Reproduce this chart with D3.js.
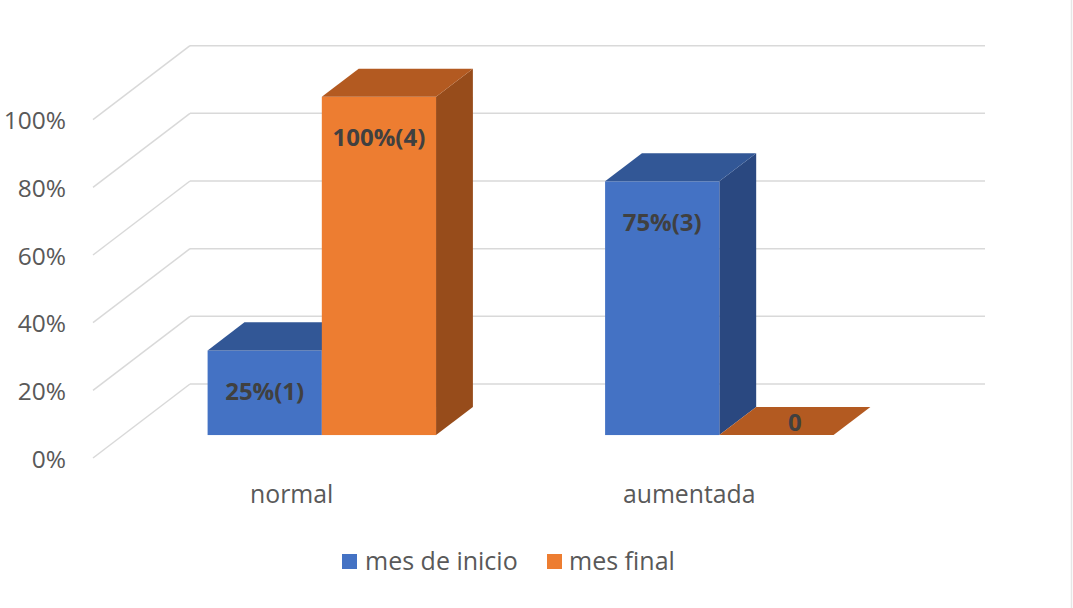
<!DOCTYPE html>
<html>
<head>
<meta charset="utf-8">
<script src="https://cdn.jsdelivr.net/npm/d3@7"></script>
<style>
  html, body { margin: 0; padding: 0; background: #ffffff; }
  svg { display: block; }
  text { font-family: "Open Sans", "Segoe UI", sans-serif; }
</style>
</head>
<body>
<svg id="chart" width="1073" height="608"></svg>
<script>
// ---- data ----
const categories = ["normal", "aumentada"];
const seriesNames = ["mes de inicio", "mes final"];
const valuesInicio = [0.25, 0.75];
const valuesFinal = [1.00, 0];
const labelsInicio = ["25%(1)", "75%(3)"];
const labelsFinal = ["100%(4)", "0"];
const tickValues = [0, 0.2, 0.4, 0.6, 0.8, 1.0];
const tickLabels = ["0%", "20%", "40%", "60%", "80%", "100%"];

// ---- styles ----
const colors = {
  "mes de inicio": { front: "#4472C4", top: "#325796", side: "#2A4880" },
  "mes final":     { front: "#ED7D31", top: "#B35A21", side: "#974C1B" }
};

const svg = d3.select("#chart");

// outer light border on the right
svg.append("line").attr("x1", 1071.5).attr("x2", 1071.5).attr("y1", 0).attr("y2", 608)
  .attr("stroke", "#E6E6E6").attr("stroke-width", 1.5);

// ---- 3D geometry (oblique projection) ----
const backLeft = 190, backRight = 985;
const depthDX = -97, depthDY = 74;            // back wall -> front edge
const barFrontFrac = 0.69, barBackFrac = 0.31; // bar faces as fraction of depth from back

const yBack = d3.scaleLinear().domain([0, 1]).range([384, 45.7]);
const xBand = d3.scaleBand().domain(categories).range([backLeft, backRight]).paddingInner(0).paddingOuter(0);
const xInner = d3.scaleBand().domain(seriesNames).range([0, xBand.bandwidth()]).paddingInner(0).paddingOuter(0.74);

const grid = svg.append("g");
tickValues.forEach(v => {
  grid.append("line")
    .attr("x1", backLeft).attr("x2", backRight)
    .attr("y1", yBack(v)).attr("y2", yBack(v))
    .attr("stroke", "#D9D9D9").attr("stroke-width", 1.5);
  grid.append("line")
    .attr("x1", backLeft).attr("y1", yBack(v))
    .attr("x2", backLeft + depthDX).attr("y2", yBack(v) + depthDY)
    .attr("stroke", "#D9D9D9").attr("stroke-width", 1.5);
});

// y labels
svg.append("g").selectAll("text").data(tickValues).join("text")
  .attr("x", 66)
  .attr("y", d => yBack(d) + depthDY)
  .attr("text-anchor", "end")
  .attr("dominant-baseline", "central")
  .attr("font-size", 24.5)
  .attr("fill", "#595959")
  .text((d, i) => tickLabels[i]);

// category labels at front edge
svg.append("g").selectAll("text").data(categories).join("text")
  .attr("x", d => xBand(d) + xBand.bandwidth() / 2 + depthDX)
  .attr("y", yBack(0) + depthDY + 35)
  .attr("text-anchor", "middle")
  .attr("dominant-baseline", "central")
  .attr("font-size", 24.8)
  .attr("fill", "#595959")
  .text(d => d);

// bars
const bars = [];
categories.forEach((c, ci) => {
  bars.push({ cat: c, series: "mes de inicio", value: valuesInicio[ci], label: labelsInicio[ci] });
  bars.push({ cat: c, series: "mes final", value: valuesFinal[ci], label: labelsFinal[ci] });
});

const fx = barFrontFrac * depthDX, fy = barFrontFrac * depthDY;
const bx = barBackFrac * depthDX, by = barBackFrac * depthDY;
const dx = bx - fx, dy = by - fy; // front face -> back face offset

const barG = svg.append("g");
bars.forEach(b => {
  const x0 = xBand(b.cat) + xInner(b.series) + fx;
  const w = xInner.bandwidth();
  const yTop = yBack(b.value) + fy;
  const yBot = yBack(0) + fy;
  const col = colors[b.series];
  const g = barG.append("g");
  // right side face
  g.append("polygon")
    .attr("points", [[x0 + w, yTop], [x0 + w + dx, yTop + dy], [x0 + w + dx, yBot + dy], [x0 + w, yBot]].map(p => p.join(",")).join(" "))
    .attr("fill", col.side);
  // front face
  g.append("rect").attr("x", x0).attr("y", yTop).attr("width", w).attr("height", Math.max(0, yBot - yTop))
    .attr("fill", col.front);
  // top face
  g.append("polygon")
    .attr("points", [[x0, yTop], [x0 + dx, yTop + dy], [x0 + w + dx, yTop + dy], [x0 + w, yTop]].map(p => p.join(",")).join(" "))
    .attr("fill", col.top);
  b.geom = { x0, w, yTop };
});

// data labels
barG.selectAll("text.lbl").data(bars).join("text")
  .attr("class", "lbl")
  .attr("x", d => d.value === 0 ? d.geom.x0 + d.geom.w / 2 + dx / 2 : d.geom.x0 + d.geom.w / 2)
  .attr("y", d => d.value === 0 ? d.geom.yTop + dy / 2 : d.geom.yTop + 40)
  .attr("text-anchor", "middle")
  .attr("dominant-baseline", "central")
  .attr("font-size", 24)
  .attr("font-weight", "bold")
  .attr("fill", "#404040")
  .text(d => d.label);

// legend
const legend = svg.append("g");
const legendItems = [
  { name: "mes de inicio", sx: 342, tx: 365 },
  { name: "mes final", sx: 547, tx: 569 }
];
legendItems.forEach(it => {
  legend.append("rect").attr("x", it.sx).attr("y", 554).attr("width", 15).attr("height", 15)
    .attr("fill", colors[it.name].front);
  legend.append("text").attr("x", it.tx).attr("y", 560)
    .attr("dominant-baseline", "central")
    .attr("font-size", 25)
    .attr("fill", "#595959")
    .text(it.name);
});
</script>
</body>
</html>
